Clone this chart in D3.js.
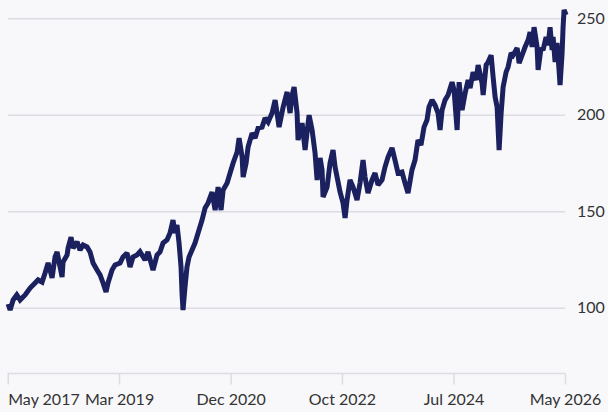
<!DOCTYPE html>
<html><head><meta charset="utf-8">
<script src="https://cdn.jsdelivr.net/npm/d3@7"></script>
<style>html,body{margin:0;padding:0;background:#f8f8fb;} svg{display:block;}</style>
</head><body><svg id="chart" width="608" height="412"></svg>
<script>
// decimal-year dates
const years = [
2017.384,2017.416,2017.465,2017.524,2017.577,2017.658,2017.738,2017.787,2017.867,2017.932,
2017.980,2018.029,2018.061,2018.093,2018.141,2018.174,2018.222,2018.254,2018.270,2018.335,
2018.351,2018.399,2018.431,2018.496,2018.544,2018.593,2018.657,2018.705,2018.754,2018.818,
2018.867,2018.915,2018.963,2018.995,2019.060,2019.108,2019.189,2019.237,2019.302,2019.350,
2019.398,2019.463,2019.511,
2019.592,2019.640,2019.721,2019.785,2019.833,2019.882,2019.946,2019.995,2020.043,2020.075,
2020.107,2020.140,2020.172,2020.188,2020.204,2020.236,2020.268,2020.301,2020.349,2020.397,
2020.446,2020.510,2020.559,2020.607,2020.671,2020.720,2020.768,2020.816,2020.849,2020.913,
2020.961,2021.010,2021.074,2021.106,2021.155,2021.171,2021.219,2021.251,2021.316,2021.364,
2021.413,2021.477,2021.525,2021.574,2021.638,2021.687,2021.751,2021.816,2021.880,2021.928,
2021.961,2021.993,2022.041,2022.057,2022.122,2022.170,2022.202,2022.235,2022.283,2022.331,
2022.364,2022.412,2022.444,2022.460,2022.525,2022.573,2022.621,2022.654,2022.686,2022.734,
2022.782,2022.815,2022.847,2022.895,2022.944,2023.008,2023.056,2023.105,2023.137,2023.185,
2023.250,2023.298,2023.347,2023.411,2023.459,2023.508,2023.572,2023.620,2023.669,2023.733,
2023.782,2023.830,2023.894,2023.943,2023.991,2024.039,2024.088,2024.136,2024.168,
2024.217,2024.265,2024.313,2024.346,2024.378,2024.426,2024.475,2024.539,2024.571,2024.620,
2024.652,2024.700,2024.749,2024.797,2024.829,2024.877,2024.926,2024.958,2025.022,2025.039,
2025.087,2025.119,2025.168,2025.200,2025.232,2025.264,2025.296,2025.329,2025.361,2025.409,
2025.441,2025.490,2025.522,2025.587,2025.619,2025.667,2025.715,2025.764,2025.796,2025.828,
2025.860,2025.909,2025.925,2025.973,2026.005,2026.054,2026.086,2026.118,2026.151,2026.167,
2026.199,2026.231,2026.263,2026.279,2026.312,2026.328,2026.344,2026.376
];
const values = [
101.9,98.8,104.0,106.6,104.0,106.6,110.2,111.8,114.4,113.3,
118.0,123.2,119.5,115.4,126.3,128.9,121.1,115.9,123.7,127.3,
130.9,136.6,130.9,134.1,129.9,132.5,131.5,128.9,123.2,119.5,
117.0,112.8,108.1,112.8,119.5,122.1,123.2,126.3,128.4,121.1,
126.3,127.3,129.0,
124.7,128.9,119.5,127.3,128.9,133.5,135.1,138.7,145.4,138.7,
142.9,133.5,121.1,107.6,98.8,110.7,121.1,126.3,129.9,133.5,
138.7,145.4,151.7,154.3,159.9,150.6,162.5,150.6,161.0,164.6,
169.8,175.0,180.7,187.9,178.1,167.7,175.0,183.3,190.5,187.9,
193.1,193.6,198.3,196.2,200.9,207.6,193.6,204.0,211.8,200.9,
210.2,214.4,200.9,186.9,195.7,181.7,191.0,199.8,192.1,180.2,
166.2,177.6,171.4,157.4,162.5,175.0,181.7,172.9,167.7,160.0,
154.3,146.5,155.8,166.2,162.5,155.8,164.6,176.5,167.7,159.4,
166.2,169.8,163.6,166.2,172.9,178.1,182.8,176.5,169.8,170.3,
164.6,159.4,171.4,176.5,186.9,184.3,193.6,197.3,204.0,
207.6,205.0,200.9,192.1,202.4,207.6,210.2,216.9,212.8,192.1,
216.9,202.4,211.2,218.0,213.8,222.1,218.0,225.8,216.4,210.2,
225.8,227.3,230.9,219.5,209.2,204.0,181.7,200.9,214.4,222.1,
224.7,232.0,230.9,234.6,226.8,230.9,235.1,238.7,242.9,235.1,
245.4,235.1,223.2,234.6,233.5,240.3,236.1,245.4,233.5,240.3,
227.3,237.2,223.2,215.4,232.0,245.4,254.3,251.7
];
const yTicks = [100, 150, 200, 250];
const xTickDates = ["2017-05-19","2019-03-05","2020-12-21","2022-10-07","2024-07-25","2026-05-12"];
const xTickLabels = ["May 2017","Mar 2019","Dec 2020","Oct 2022","Jul 2024","May 2026"];

function fromDecimal(t){
  const yr = Math.floor(t);
  const s = Date.UTC(yr,0,1), e = Date.UTC(yr+1,0,1);
  return new Date(s + (t-yr)*(e-s));
}
const data = years.map((t,i)=>({date: fromDecimal(t), v: values[i]}));
const tickDates = xTickDates.map(s=>new Date(s+"T00:00:00Z"));

const svg = d3.select("#chart");
const W = 608, H = 412;
const left = 7.75, right = 565, axisY = 373.5;

const x = d3.scaleUtc().domain([tickDates[0], tickDates[tickDates.length-1]]).range([left, right]);
const y = d3.scaleLinear().domain([100, 250]).range([307.7, 18.3]);

svg.append("rect").attr("width",W).attr("height",H).attr("fill","#f8f8fb");

// y grid + labels
const gy = svg.append("g").attr("transform",`translate(${right},0)`)
  .call(d3.axisRight(y).tickValues(yTicks).tickSize(-(right-left)).tickPadding(12));
gy.select(".domain").remove();
gy.selectAll(".tick line").attr("stroke","#dcdce2").attr("stroke-width",1.5);
gy.selectAll(".tick text").attr("fill","#333").style("font-family","Lato, 'Noto Sans', sans-serif").style("font-size","16px");

// x axis
const gx = svg.append("g").attr("transform",`translate(0,${axisY})`)
  .call(d3.axisBottom(x).tickValues(tickDates).tickFormat((d,i)=>xTickLabels[i]).tickSize(11).tickPadding(9));
gx.select(".domain").attr("stroke","#dcdce2").attr("stroke-width",1.5).attr("d",`M${left},0H${right}`);
gx.selectAll(".tick line").attr("stroke","#dcdce2").attr("stroke-width",1.5);
gx.selectAll(".tick text").attr("fill","#333").style("font-family","Lato, 'Noto Sans', sans-serif").style("font-size","16px")
  .attr("text-anchor",(d,i)=> i===0 ? "start" : "middle");

// line
const line = d3.line().x(d=>x(d.date)).y(d=>y(d.v));
svg.append("path").datum(data).attr("d",line)
  .attr("fill","none").attr("stroke","#1b205e").attr("stroke-width",5)
  .attr("stroke-linejoin","miter").attr("stroke-miterlimit",2).attr("stroke-linecap","butt");
</script>
</body></html>
